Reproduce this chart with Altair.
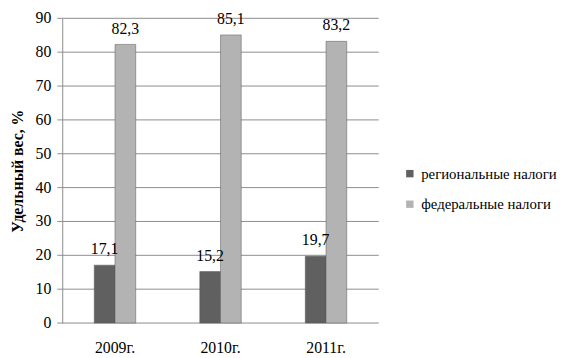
import altair as alt
import pandas as pd

years = ["2009г.", "2010г.", "2011г."]
series = ["региональные налоги", "федеральные налоги"]
regional = [17.1, 15.2, 19.7]
federal = [82.3, 85.1, 83.2]
colors = ["#606060", "#b3b3b3"]
yticks = [0, 10, 20, 30, 40, 50, 60, 70, 80, 90]

rows = []
for i, y in enumerate(years):
    rows.append({"year": y, "series": series[0], "value": regional[i], "label": f"{regional[i]:.1f}".replace(".", ",")})
    rows.append({"year": y, "series": series[1], "value": federal[i], "label": f"{federal[i]:.1f}".replace(".", ",")})
df = pd.DataFrame(rows)
ticks_df = pd.DataFrame({"tick": yticks, "tlabel": [str(t) for t in yticks]})

FONT = "Liberation Serif"
FS = 16

yscale = alt.Scale(domain=[0, 90], nice=False, zero=True)

x = alt.X("year:N", sort=years, title=None,
          scale=alt.Scale(paddingInner=0.607, paddingOuter=0.3035),
          axis=alt.Axis(labelAngle=0, ticks=False, domain=False, grid=False, labelFontSize=16,
                        labelFont=FONT, labelColor="#000000", labelPadding=17))
xo = alt.XOffset("series:N", sort=series,
                 scale=alt.Scale(paddingInner=0, paddingOuter=0))
y = alt.Y("value:Q", title="Удельный вес, %", scale=yscale,
          axis=alt.Axis(labels=False, ticks=False, grid=False,
                        titleFont=FONT, titleFontSize=16, titleFontWeight="bold",
                        titleColor="#000000", titlePadding=37,
                        domainColor="#8c8c8c"))
color = alt.Color("series:N", sort=series,
                  scale=alt.Scale(domain=series, range=colors),
                  legend=alt.Legend(title=None, orient="none", legendX=345, legendY=150,
                                    symbolType="square", symbolSize=56, symbolStrokeWidth=0,
                                    labelFont=FONT, labelFontSize=15, labelColor="#000000",
                                    rowPadding=15, symbolOffset=0, labelOffset=4,
                                    labelLimit=300))

grid = alt.Chart(ticks_df).mark_rule(color="#8c8c8c", strokeWidth=1).encode(
    y=alt.Y("tick:Q", scale=yscale),
    x=alt.value(-5), x2=alt.value(321))
tick_labels = alt.Chart(ticks_df).mark_text(
    align="right", baseline="middle", fontSize=FS, font=FONT, color="#000000").encode(
    y=alt.Y("tick:Q", scale=yscale), x=alt.value(-11), text="tlabel:N")
bars = alt.Chart(df).mark_bar(stroke="#555555", strokeWidth=0.5).encode(
    x=x, xOffset=xo, y=y, color=color)
labels = alt.Chart(df).mark_text(dy=-11, baseline="alphabetic", fontSize=16,
                                 font=FONT, color="#000000").encode(
    x=x, xOffset=xo, y=y, text="label:N")

chart = alt.layer(grid, bars, labels, tick_labels).properties(
    width=321, height=309,
    autosize=alt.AutoSizeParams(type="none"),
    padding={"left": 55, "top": 8, "right": 201, "bottom": 34},
).configure_view(stroke=None)

chart.save("out.html", embed_options={"renderer": "svg", "actions": False})
